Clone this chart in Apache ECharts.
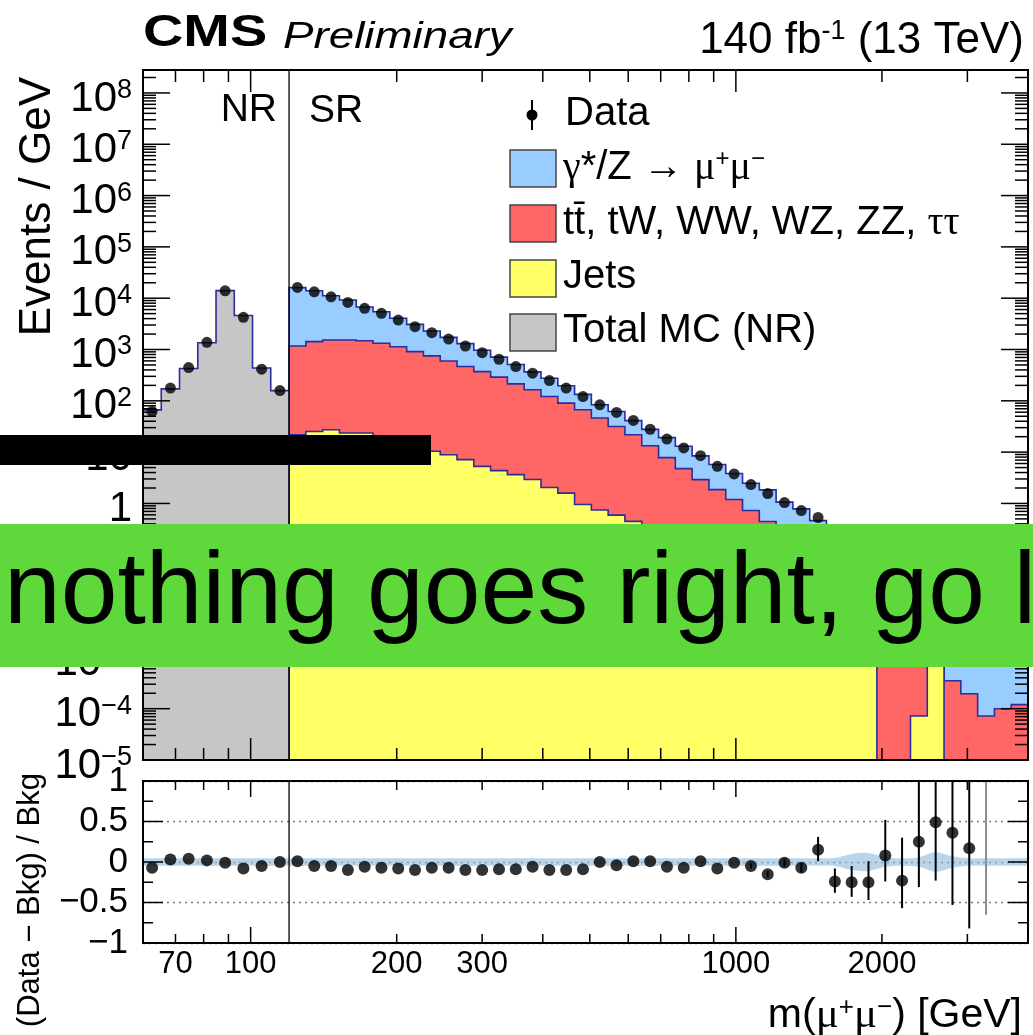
<!DOCTYPE html>
<html>
<head>
<meta charset="utf-8">
<script src="https://cdn.jsdelivr.net/npm/echarts@6/dist/echarts.min.js"></script>
<style>
  html, body { margin: 0; padding: 0; background: #fff; }
  #chart { width: 1033px; height: 1035px; }
</style>
</head>
<body>
<div id="chart"></div>
<script>
// ---- Binning (GeV) ----
const nrEdges = [60, 65.43, 71.35, 77.81, 84.85, 92.53, 100.9, 110.0, 120];
const srEdges = [120, 129.95, 140.73, 152.41, 165.07, 178.74, 193.58, 209.64, 227.03, 245.86,
  266.25, 288.34, 312.28, 338.18, 366.23, 396.6, 429.55, 465.15, 503.73, 545.52,
  590.65, 639.8, 692.87, 750.34, 812.58, 880.0, 952.98, 1032.1, 1117.7, 1210.4,
  1310.8, 1419.6, 1537.3, 1664.9, 1803.0, 1952.6, 2114.6, 2290.0, 2480.0, 2685.7,
  2908.5, 3149.8, 3411.1, 3694.2, 4000];

// ---- Normalisation region (Events / GeV) ----
const nrData    = [62, 177, 444, 1383, 13930, 4236, 413, 158];
const nrTotalMC = [66.5, 171, 427, 1355, 14060, 4600, 435, 158];

// ---- Signal region (Events / GeV) ----
const srData = [16220, 13300, 10640, 8280, 6340, 5070, 3750, 2780, 2130, 1600,
  1170, 869, 646, 465, 345, 248, 177, 121, 83.6, 59.3,
  41.4, 27.9, 18.0, 12.1, 8.53, 5.28, 3.76, 2.33, 1.56, 1.04,
  0.728, 0.532, 0.230, 0.150, 0.0989, 0.094, 0.0443, 0.0475, 0.0374, 0.0226,
  0.0128, null, null, null];
const srDY = [14897, 12574, 9659, 7669, 5259, 4137, 2939, 2182, 1541, 1128,
  838, 595, 421, 297, 203, 155, 106, 66.6, 37.5, 30.2,
  19.2, 14.4, 11.4, 8.24, 5.53, 3.88, 2.65, 1.75, 1.39, 0.78,
  0.605, 0.350, 0.231, 0.155, 0.104, 0.0713, 0.0475, 0.0330, 0.0219, 0.0162,
  0.0108, 0.00717, 0.00469, 0.00304];
const srTop = [1150, 1397, 1508, 1511, 1462, 1301, 1119, 895, 740, 589,
  458, 366, 285, 210, 161, 119, 88.6, 65.9, 45.4, 31.0,
  21.4, 13.0, 7.56, 4.59, 2.79, 1.77, 1.13, 0.683, 0.413, 0.260,
  0.162, 0.101, 0.0629, 0.0397, 0.0250, 0.0158, 0.0100, 0.00494, 0.0019, 0.00035,
  0.000195, 0.000072, 0.0001, 0.00012];
const srJets = [21.8, 25.3, 27.3, 23.6, 23.6, 20.0, 15.8, 12.8, 10.4, 8.91,
  7.13, 5.28, 4.37, 3.65, 2.92, 2.04, 1.59, 0.953, 0.745, 0.593,
  0.447, 0.331, 0.240, 0.174, 0.126, 0.0891, 0.0631, 0.0447, 0.0316, 0.0224,
  0.0158, 0.0112, 0.00794, 0.00501, 0.00316, 0, 0, 0.000072, 0.00126, 0,
  0, 0, 0, 0];

// ---- (Data - Bkg) / Bkg ----
const nrRatio = [-0.07, 0.03, 0.04, 0.02, -0.01, -0.08, -0.05, 0.00];
const srRatio = [0.01, -0.05, -0.05, -0.10, -0.06, -0.07, -0.08, -0.10, -0.07, -0.07,
  -0.10, -0.10, -0.09, -0.09, -0.06, -0.10, -0.10, -0.09, 0.00, -0.04,
  0.01, 0.01, -0.06, -0.07, 0.01, -0.08, -0.01, -0.05, -0.15, -0.01,
  -0.07, 0.15, -0.24, -0.25, -0.25, 0.08, -0.23, 0.25, 0.49, 0.36,
  0.17, null, null, null];
// error bar ends (null where smaller than the marker)
const srRatioLow = [null, null, null, null, null, null, null, null, null, null,
  null, null, null, null, null, null, null, null, null, null,
  null, null, null, null, null, null, null, -0.08, -0.19, -0.06,
  -0.13, 0.01, -0.38, -0.43, -0.47, -0.24, -0.57, -0.31, -0.23, -0.53,
  -0.82, -0.65, null, null];
const srRatioHigh = [null, null, null, null, null, null, null, null, null, null,
  null, null, null, null, null, null, null, null, null, null,
  null, null, null, null, null, null, null, -0.02, -0.11, 0.04,
  -0.01, 0.31, -0.08, -0.05, 0.01, 0.52, 0.30, 1.5, 1.5, 1.5,
  1.5, 1.5, null, null];
// background uncertainty (half width)
const nrBand = [0.045, 0.045, 0.045, 0.045, 0.045, 0.045, 0.045, 0.045];
const srBand = [0.045, 0.045, 0.045, 0.045, 0.045, 0.045, 0.045, 0.045, 0.045, 0.045,
  0.045, 0.045, 0.045, 0.045, 0.045, 0.045, 0.045, 0.045, 0.045, 0.045,
  0.045, 0.045, 0.045, 0.045, 0.045, 0.045, 0.045, 0.045, 0.045, 0.045,
  0.045, 0.045, 0.05, 0.10, 0.11, 0.06, 0.045, 0.06, 0.12, 0.07,
  0.045, 0.045, 0.045, 0.045];

// ---- Axis ticks and labels ----
const xTickValues = [70, 80, 90, 100, 200, 300, 400, 500, 600, 700, 800, 900, 1000, 2000, 3000];
const xMajorTicks = [100, 1000];
const xTickLabels = [70, 100, 200, 300, 1000, 2000];
const yDecades = [-5, -4, -3, -2, -1, 0, 1, 2, 3, 4, 5, 6, 7, 8];
const ratioTicks = [-0.75, -0.5, -0.25, 0, 0.25, 0.5, 0.75];

// ---- Style ----
const FONT = '"Liberation Sans", Arial, Helvetica, sans-serif';
const SERIF = '"Liberation Serif", "DejaVu Serif", serif';
const X_MIN = 60, X_MAX = 4000, Y_MIN = 1e-5, Y_MAX = 2.8e8, R_MIN = -1, R_MAX = 1;
const SPLIT = 120;
const OUTLINE = '#2b2d9c';
const C_DY = '#99ccff', C_TOP = '#ff6666', C_JETS = '#ffff66', C_NR = '#c6c6c6';

const centersOf = e => e.slice(0, -1).map((v, i) => Math.sqrt(v * e[i + 1]));
const nrCenters = centersOf(nrEdges);
const srCenters = centersOf(srEdges);

// stacked totals for drawing
const stackJets = srJets.slice();
const stackTop = srJets.map((v, i) => v + srTop[i]);
const stackDY = stackTop.map((v, i) => v + srDY[i]);

function histSeries(name, edges, tops, fill, z) {
  return {
    name, type: 'custom', xAxisIndex: 0, yAxisIndex: 0, clip: true, silent: true, z,
    data: [[edges[0], Y_MIN]], encode: { x: 0, y: 1 },
    renderItem(params, api) {
      const pts = [api.coord([edges[0], Y_MIN])];
      tops.forEach((t, i) => {
        const v = Math.max(t, Y_MIN);
        pts.push(api.coord([edges[i], v]), api.coord([edges[i + 1], v]));
      });
      pts.push(api.coord([edges[edges.length - 1], Y_MIN]));
      return { type: 'polygon', shape: { points: pts },
        style: { fill, stroke: OUTLINE, lineWidth: 1.6, lineJoin: 'miter' } };
    }
  };
}

function line(x1, y1, x2, y2, w, c) {
  return { type: 'line', shape: { x1, y1, x2, y2 }, style: { stroke: c || '#000', lineWidth: w || 1.5 } };
}

// x ticks (bottom and top of a panel)
function xTickSeries(axisIdx, yLo, yHi, majLen, minLen) {
  return {
    type: 'custom', xAxisIndex: axisIdx, yAxisIndex: axisIdx, silent: true, z: 20, clip: false,
    data: xTickValues.map(v => [v, xMajorTicks.includes(v) ? 1 : 0, yLo]), encode: { x: 0, y: 2 },
    renderItem(params, api) {
      const v = api.value(0), len = api.value(1) ? majLen : minLen;
      const b = api.coord([v, yLo]), t = api.coord([v, yHi]);
      return { type: 'group', children: [line(b[0], b[1], b[0], b[1] - len), line(t[0], t[1], t[0], t[1] + len)] };
    }
  };
}

// y ticks (left and right of a panel)
function yTickSeries(axisIdx, vals, majLen, minLen) {
  return {
    type: 'custom', xAxisIndex: axisIdx, yAxisIndex: axisIdx, silent: true, z: 20, clip: false,
    data: vals.map(d => [X_MIN, d[0], d[1]]), encode: { x: 0, y: 1 },
    renderItem(params, api) {
      const v = api.value(1), len = api.value(2) ? majLen : minLen;
      const l = api.coord([X_MIN, v]), r = api.coord([X_MAX, v]);
      return { type: 'group', children: [line(l[0], l[1], l[0] + len, l[1]), line(r[0], r[1], r[0] - len, r[1])] };
    }
  };
}

// panel frame with the NR | SR divider
function frameSeries(axisIdx, yLo, yHi) {
  return {
    type: 'custom', xAxisIndex: axisIdx, yAxisIndex: axisIdx, silent: true, z: 21, clip: false,
    data: [[X_MIN, yLo]], encode: { x: 0, y: 1 },
    renderItem(params, api) {
      const tl = api.coord([X_MIN, yHi]), br = api.coord([X_MAX, yLo]);
      const s1 = api.coord([SPLIT, yHi]), s2 = api.coord([SPLIT, yLo]);
      return { type: 'group', children: [
        { type: 'rect', shape: { x: tl[0], y: tl[1], width: br[0] - tl[0], height: br[1] - tl[1] },
          style: { fill: 'none', stroke: '#000', lineWidth: 2 } },
        line(s1[0], s1[1], s2[0], s2[1], 1.3)
      ] };
    }
  };
}

const yTopTicks = [];
yDecades.forEach(e => {
  yTopTicks.push([Math.pow(10, e), 1]);
  for (let k = 2; k <= 9; k++) {
    const v = k * Math.pow(10, e);
    if (v < Y_MAX) yTopTicks.push([v, 0]);
  }
});
const yRatioTicks = ratioTicks.map(v => [v, (v === 0 || Math.abs(v) === 0.5) ? 1 : 0]);

const allCenters = nrCenters.concat(srCenters);
const allBand = nrBand.concat(srBand);

const option = {
  animation: false,
  backgroundColor: '#fff',
  grid: [
    { left: 143, top: 70, width: 885, height: 690, show: false },
    { left: 143, top: 781, width: 885, height: 162, show: false }
  ],
  xAxis: [
    { type: 'log', logBase: 10, gridIndex: 0, min: X_MIN, max: X_MAX,
      axisLine: { show: false }, axisTick: { show: false }, axisLabel: { show: false }, splitLine: { show: false } },
    { type: 'log', logBase: 10, gridIndex: 1, min: X_MIN, max: X_MAX,
      axisLine: { show: false }, axisTick: { show: false }, axisLabel: { show: false }, splitLine: { show: false } }
  ],
  yAxis: [
    { type: 'log', logBase: 10, gridIndex: 0, min: Y_MIN, max: Y_MAX, interval: 1, splitNumber: 13,
      axisLine: { show: false }, axisTick: { show: false }, splitLine: { show: false },
      axisLabel: {
        margin: 11, showMaxLabel: false, padding: [12, 0, 0, 0],
        formatter: v => {
          const l = Math.log10(v), e = Math.round(l);
          if (Math.abs(l - e) > 1e-6) return '';
          if (e === 0) return '{b|1}';
          if (e === 1) return '{b|10}';
          return '{b|10}{s|' + (e < 0 ? '\u2212' + (-e) : e) + '}';
        },
        rich: {
          b: { fontSize: 42, fontFamily: FONT, lineHeight: 44, color: '#000' },
          s: { fontSize: 27, fontFamily: FONT, lineHeight: 27, verticalAlign: 'top', color: '#000' }
        }
      } },
    { type: 'value', gridIndex: 1, min: R_MIN, max: R_MAX, interval: 0.5,
      axisLine: { show: false }, axisTick: { show: false },
      splitLine: { show: true, lineStyle: { color: '#7a7a7a', type: [2, 4], width: 1.3 } },
      axisLabel: { margin: 15, fontSize: 35, fontFamily: FONT, color: '#000',
        formatter: v => String(v).replace('-', '\u2212') } }
  ],
  series: [
    // stacked backgrounds, signal region
    histSeries('\u03b3*/Z \u2192 \u03bc\u207a\u03bc\u207b', srEdges, stackDY, C_DY, 2),
    histSeries('tt\u0304, tW, WW, WZ, ZZ, \u03c4\u03c4', srEdges, stackTop, C_TOP, 3),
    histSeries('Jets', srEdges, stackJets, C_JETS, 4),
    // normalisation region
    histSeries('Total MC (NR)', nrEdges, nrTotalMC, C_NR, 4),
    // data
    { name: 'Data', type: 'scatter', xAxisIndex: 0, yAxisIndex: 0, z: 10, silent: true,
      symbol: 'circle', symbolSize: 11, itemStyle: { color: '#000' },
      data: nrCenters.map((c, i) => [c, nrData[i]]).concat(
        srCenters.map((c, i) => [c, srData[i]]).filter(d => d[1] != null)) },
    frameSeries(0, Y_MIN, Y_MAX),
    xTickSeries(0, Y_MIN, Y_MAX, 22, 12),
    yTickSeries(0, yTopTicks, 27, 13),

    // ratio: background uncertainty band
    { type: 'custom', xAxisIndex: 1, yAxisIndex: 1, clip: true, silent: true, z: 2,
      data: [[X_MIN, 0]], encode: { x: 0, y: 1 },
      renderItem(params, api) {
        const up = [api.coord([50, allBand[0]])], lo = [api.coord([50, -allBand[0]])];
        allCenters.forEach((c, i) => { up.push(api.coord([c, allBand[i]])); lo.push(api.coord([c, -allBand[i]])); });
        up.push(api.coord([5000, allBand[allBand.length - 1]]));
        lo.push(api.coord([5000, -allBand[allBand.length - 1]]));
        return { type: 'polygon', shape: { points: up.concat(lo.reverse()), smooth: 0.35 },
          style: { fill: 'rgba(140,185,220,0.6)' } };
      } },
    // ratio: error bars
    { type: 'custom', xAxisIndex: 1, yAxisIndex: 1, clip: true, silent: true, z: 8,
      data: srCenters.map((c, i) => [c, srRatioLow[i], srRatioHigh[i], srRatio[i] == null ? 1 : 0])
        .filter(d => d[1] != null),
      encode: { x: 0, y: 1 },
      renderItem(params, api) {
        const c = api.value(0);
        const a = api.coord([c, api.value(1)]), b = api.coord([c, api.value(2)]);
        const empty = api.value(3) === 1;
        return line(a[0], a[1], b[0], b[1], 2, empty ? '#8c8c8c' : '#000');
      } },
    // ratio: points
    { type: 'scatter', xAxisIndex: 1, yAxisIndex: 1, z: 10, silent: true,
      symbol: 'circle', symbolSize: 12, itemStyle: { color: '#000' },
      data: nrCenters.map((c, i) => [c, nrRatio[i]]).concat(
        srCenters.map((c, i) => [c, srRatio[i]]).filter(d => d[1] != null)) },
    frameSeries(1, R_MIN, R_MAX),
    xTickSeries(1, R_MIN, R_MAX, 16, 9),
    yTickSeries(1, yRatioTicks, 20, 10),
    // x tick labels
    { type: 'custom', xAxisIndex: 1, yAxisIndex: 1, clip: false, silent: true, z: 20,
      data: xTickLabels.map(v => [v, R_MIN]), encode: { x: 0, y: 1 },
      renderItem(params, api) {
        const p = api.coord([api.value(0), R_MIN]);
        return { type: 'text', x: p[0], y: p[1] + 21,
          style: { text: String(api.value(0)), font: '31px ' + FONT, fill: '#000', align: 'center', verticalAlign: 'middle' } };
      } }
  ],
  graphic: [
    // header
    { type: 'text', x: 143, y: 34, scaleX: 1.27, z: 50,
      style: { text: 'CMS', font: 'bold 44px ' + FONT, fill: '#000', verticalAlign: 'middle' } },
    { type: 'text', x: 283, y: 38, scaleX: 1.27, z: 50,
      style: { text: 'Preliminary', font: 'italic 36px ' + FONT, fill: '#000', verticalAlign: 'middle' } },
    { type: 'text', x: 1024, y: 41, z: 50,
      style: { text: '{b|140 fb}{s|-1}{b| (13 TeV)}', align: 'right', verticalAlign: 'middle',
        rich: { b: { fontSize: 44, fontFamily: FONT, lineHeight: 46, fill: '#000' },
                s: { fontSize: 27, fontFamily: FONT, lineHeight: 27, verticalAlign: 'top', fill: '#000' } } } },
    // axis titles
    { type: 'text', x: 38, y: 77, rotation: Math.PI / 2, z: 50,
      style: { text: 'Events / GeV', font: '44px ' + FONT, fill: '#000', align: 'right', verticalAlign: 'middle' } },
    { type: 'text', x: 30, y: 773, rotation: Math.PI / 2, z: 50,
      style: { text: '(Data \u2212 Bkg) / Bkg', font: '31px ' + FONT, fill: '#000', align: 'right', verticalAlign: 'middle' } },
    { type: 'text', x: 1022, y: 1016, z: 50,
      style: { text: '{t|m(}{g|\u03bc}{s|+}{g|\u03bc}{s|\u2212}{t|) [GeV]}', align: 'right', verticalAlign: 'middle',
        rich: { t: { fontSize: 41, fontFamily: FONT, lineHeight: 42, fill: '#000' },
                g: { fontSize: 43, fontFamily: SERIF, lineHeight: 42, fill: '#000' },
                s: { fontSize: 26, fontFamily: FONT, lineHeight: 26, verticalAlign: 'top', fill: '#000' } } } },
    // region labels
    { type: 'text', x: 277, y: 110, z: 50,
      style: { text: 'NR', font: '39px ' + FONT, fill: '#000', align: 'right', verticalAlign: 'middle' } },
    { type: 'text', x: 309, y: 111, z: 50,
      style: { text: 'SR', font: '39px ' + FONT, fill: '#000', align: 'left', verticalAlign: 'middle' } },
    // legend
    { type: 'line', z: 50, shape: { x1: 532, y1: 100, x2: 532, y2: 130 }, style: { stroke: '#000', lineWidth: 2 } },
    { type: 'circle', z: 50, shape: { cx: 532, cy: 115, r: 5.5 }, style: { fill: '#000' } },
    { type: 'text', x: 565, y: 114, z: 50,
      style: { text: 'Data', font: '40px ' + FONT, fill: '#000', verticalAlign: 'middle' } },
    { type: 'rect', z: 50, shape: { x: 510, y: 150, width: 46, height: 37 }, style: { fill: C_DY, stroke: '#444', lineWidth: 1.5 } },
    { type: 'text', x: 563, y: 168, z: 50,
      style: { text: '{g|\u03b3}{t|*/Z }{g|\u2192}{t| }{g|\u03bc}{s|+}{g|\u03bc}{s|\u2212}', verticalAlign: 'middle',
        rich: { t: { fontSize: 40, fontFamily: FONT, lineHeight: 42, fill: '#000' },
                g: { fontSize: 40, fontFamily: SERIF, lineHeight: 42, fill: '#000' },
                s: { fontSize: 24, fontFamily: FONT, lineHeight: 24, verticalAlign: 'top', fill: '#000' } } } },
    { type: 'rect', z: 50, shape: { x: 510, y: 205, width: 46, height: 37 }, style: { fill: C_TOP, stroke: '#444', lineWidth: 1.5 } },
    { type: 'text', x: 563, y: 223, z: 50,
      style: { text: '{t|tt\u0304, tW, WW, WZ, ZZ, }{g|\u03c4\u03c4}', verticalAlign: 'middle',
        rich: { t: { fontSize: 40, fontFamily: FONT, lineHeight: 42, fill: '#000' },
                g: { fontSize: 40, fontFamily: SERIF, lineHeight: 42, fill: '#000' } } } },
    { type: 'rect', z: 50, shape: { x: 510, y: 260, width: 46, height: 37 }, style: { fill: C_JETS, stroke: '#444', lineWidth: 1.5 } },
    { type: 'text', x: 563, y: 277, z: 50,
      style: { text: 'Jets', font: '40px ' + FONT, fill: '#000', verticalAlign: 'middle' } },
    { type: 'rect', z: 50, shape: { x: 510, y: 314, width: 46, height: 37 }, style: { fill: C_NR, stroke: '#444', lineWidth: 1.5 } },
    { type: 'text', x: 563, y: 331, z: 50,
      style: { text: 'Total MC (NR)', font: '40px ' + FONT, fill: '#000', verticalAlign: 'middle' } },
    // overlays
    { type: 'rect', z: 100, shape: { x: 0, y: 435, width: 431, height: 30 }, style: { fill: '#000' } },
    { type: 'rect', z: 100, shape: { x: 0, y: 524, width: 1033, height: 143 }, style: { fill: '#5ed83a' } },
    { type: 'text', x: 4, y: 595, z: 101,
      style: { text: 'nothing goes right, go left', font: '102px ' + FONT, fill: '#000', verticalAlign: 'middle' } }
  ]
};

const chart = echarts.init(document.getElementById('chart'), null, { renderer: 'canvas' });
chart.setOption(option);
</script>
</body>
</html>
